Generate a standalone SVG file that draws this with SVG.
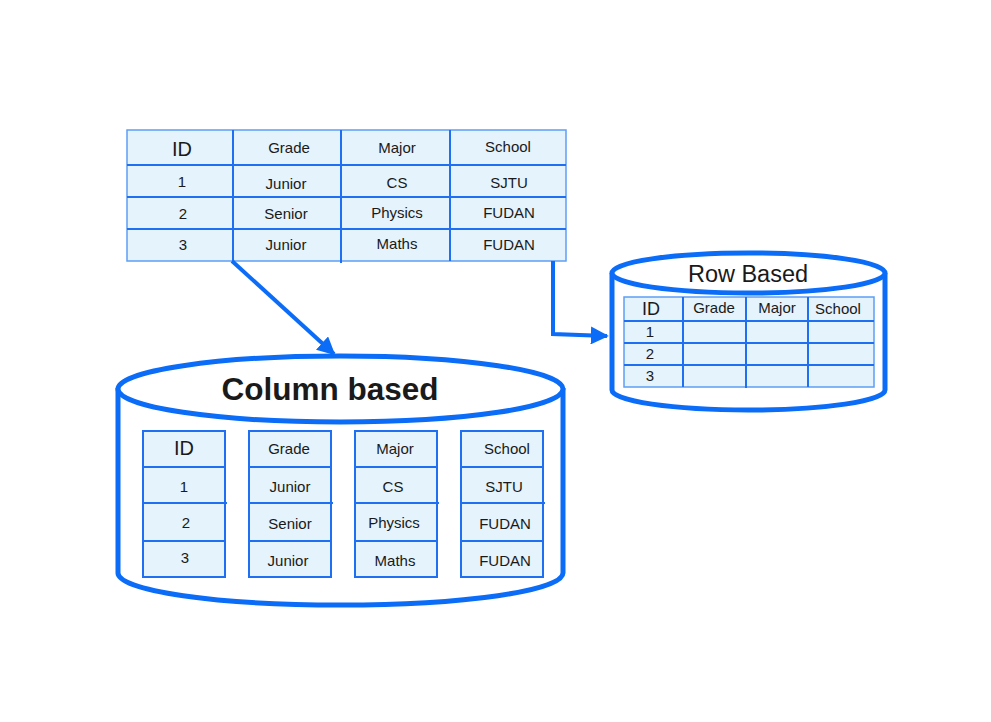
<svg xmlns="http://www.w3.org/2000/svg" width="991" height="722" viewBox="0 0 991 722">
<style>
.t{font-family:"Liberation Sans",Arial,sans-serif;fill:#1a1a1a;text-anchor:middle}
.s15{font-size:15px}
.s20{font-size:20px}
.cell{fill:#e4f3fc}
.grid{stroke:#1f6ff2;stroke-width:2;fill:none}
.cyl{fill:#fff;stroke:#0b6cf7;stroke-width:5}
.conn{stroke:#0b6cf7;stroke-width:4;fill:none}
</style>
<defs>
<marker id="ah" viewBox="0 0 10 10" refX="9" refY="5" markerWidth="4.5" markerHeight="4.5" orient="auto" markerUnits="strokeWidth">
<path d="M0,0 L10,5 L0,10 z" fill="#0b6cf7"/>
</marker>
</defs>
<rect width="991" height="722" fill="#fff"/>

<g id="source-table">
<rect class="cell" x="127" y="130" width="439" height="131" stroke="#5d9ff5" stroke-width="1.5"/>
<path class="grid" d="M127,165 H566 M127,197 H566 M127,229 H566 M233,130 V261 M341,130 V263 M450,130 V261"/>
<text class="t s20" x="182" y="156">ID</text>
<text class="t s15" x="289" y="153">Grade</text>
<text class="t s15" x="397" y="153">Major</text>
<text class="t s15" x="508" y="152">School</text>
<text class="t s15" x="182" y="187">1</text>
<text class="t s15" x="286" y="189">Junior</text>
<text class="t s15" x="397" y="188">CS</text>
<text class="t s15" x="509" y="188">SJTU</text>
<text class="t s15" x="183" y="219">2</text>
<text class="t s15" x="286" y="219">Senior</text>
<text class="t s15" x="397" y="218">Physics</text>
<text class="t s15" x="509" y="218">FUDAN</text>
<text class="t s15" x="183" y="250">3</text>
<text class="t s15" x="286" y="250">Junior</text>
<text class="t s15" x="397" y="249">Maths</text>
<text class="t s15" x="509" y="250">FUDAN</text>
</g>

<g id="connectors">
<path class="conn" d="M232,261 L334,354" marker-end="url(#ah)"/>
<path class="conn" d="M553,261 V334 L607,336" marker-end="url(#ah)"/>
</g>

<g id="column-based">
<path class="cyl" d="M118,388 V573 A222,32 0 0 0 563,573 V388"/>
<ellipse class="cyl" cx="340.5" cy="389" rx="222.5" ry="33"/>
<text class="t" x="330" y="400" font-size="31.5" font-weight="bold" fill="#000">Column based</text>
<g>
<rect class="cell" x="143" y="431" width="82" height="146"/>
<rect class="cell" x="249" y="431" width="82" height="146"/>
<rect class="cell" x="355" y="431" width="82" height="146"/>
<rect class="cell" x="461" y="431" width="82" height="146"/>
<path class="grid" d="M143,431 h82 v146 h-82 z M143,467 h82 M143,503 h84 M143,541 h82"/>
<path class="grid" d="M249,431 h82 v146 h-82 z M249,467 h82 M249,503 h84 M249,541 h82"/>
<path class="grid" d="M355,431 h82 v146 h-82 z M355,467 h82 M355,503 h84 M355,541 h82"/>
<path class="grid" d="M461,431 h82 v146 h-82 z M461,467 h82 M461,503 h84 M461,541 h82"/>
</g>
<text class="t s20" x="184" y="455">ID</text>
<text class="t s15" x="184" y="492">1</text>
<text class="t s15" x="186" y="528">2</text>
<text class="t s15" x="185" y="563">3</text>
<text class="t s15" x="289" y="454">Grade</text>
<text class="t s15" x="290" y="492">Junior</text>
<text class="t s15" x="290" y="529">Senior</text>
<text class="t s15" x="288" y="566">Junior</text>
<text class="t s15" x="395" y="454">Major</text>
<text class="t s15" x="393" y="492">CS</text>
<text class="t s15" x="394" y="528">Physics</text>
<text class="t s15" x="395" y="566">Maths</text>
<text class="t s15" x="507" y="454">School</text>
<text class="t s15" x="504" y="492">SJTU</text>
<text class="t s15" x="505" y="529">FUDAN</text>
<text class="t s15" x="505" y="566">FUDAN</text>
</g>

<g id="row-based">
<path class="cyl" stroke-width="4" d="M612,273 V390 A136.5,20 0 0 0 885,390 V273"/>
<ellipse class="cyl" stroke-width="4" cx="748.5" cy="273" rx="136.5" ry="20"/>
<text class="t" x="748" y="282" font-size="23.5" fill="#000">Row Based</text>
<rect class="cell" x="624" y="297" width="250" height="90" stroke="#5d9ff5" stroke-width="1.5"/>
<path class="grid" stroke-width="1.5" d="M624,321 H874 M624,343 H874 M624,365 H874 M683,297 V387 M746,297 V388 M808,297 V387"/>
<text class="t" x="651" y="315" font-size="18">ID</text>
<text class="t s15" x="714" y="313">Grade</text>
<text class="t s15" x="777" y="313">Major</text>
<text class="t s15" x="838" y="314">School</text>
<text class="t s15" x="650" y="337">1</text>
<text class="t s15" x="650" y="359">2</text>
<text class="t s15" x="650" y="381">3</text>
</g>
</svg>
